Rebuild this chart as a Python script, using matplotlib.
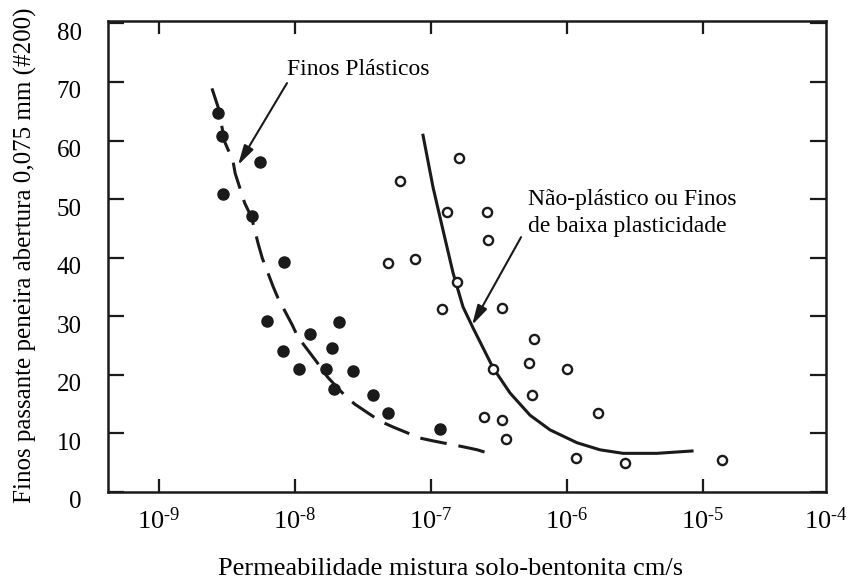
import numpy as np
import matplotlib
matplotlib.use("Agg")
import matplotlib.pyplot as plt
from matplotlib.transforms import ScaledTranslation

plt.rcParams['font.family'] = ['Liberation Serif', 'DejaVu Serif']
plt.rcParams['mathtext.fontset'] = 'custom'
plt.rcParams['mathtext.rm'] = 'Liberation Serif'
plt.rcParams['mathtext.it'] = 'Liberation Serif'

# finos plasticos (pontos cheios)
k_plast = [2.72e-9, 2.90e-9, 5.53e-9, 2.95e-9, 4.79e-9, 8.3e-9, 6.2e-9, 1.29e-8, 8.1e-9,
           2.11e-8, 1.87e-8, 1.07e-8, 1.70e-8, 2.69e-8, 1.95e-8, 3.72e-8, 4.83e-8, 1.17e-7]
f_plast = [64.7, 60.8, 56.3, 50.9, 47.1, 39.2, 29.2, 27.0, 24.1,
           29.0, 24.6, 21.0, 21.0, 20.6, 17.6, 16.6, 13.5, 10.7]
# nao plasticos (pontos abertos)
k_nplast = [1.61e-7, 5.92e-8, 1.32e-7, 2.58e-7, 2.63e-7, 4.83e-8, 7.62e-8, 1.55e-7, 1.20e-7,
            3.33e-7, 5.71e-7, 5.25e-7, 2.86e-7, 1.0e-6, 5.53e-7, 1.69e-6, 2.45e-7, 3.33e-7,
            3.55e-7, 1.17e-6, 2.69e-6, 1.38e-5]
f_nplast = [57.0, 53.1, 47.8, 47.8, 43.0, 39.1, 39.8, 35.8, 31.2,
            31.4, 26.1, 22.0, 21.0, 21.0, 16.6, 13.5, 12.8, 12.3,
            9.0, 5.8, 4.9, 5.5]
# curvas
k_curva_plast = [2.45e-9, 2.72e-9, 3.05e-9, 3.50e-9, 3.63e-9, 4.27e-9, 4.79e-9, 5.37e-9,
                 5.75e-9, 6.92e-9, 7.50e-9, 9.55e-9, 1.047e-8, 1.445e-8, 1.738e-8, 2.34e-8,
                 2.75e-8, 4.22e-8, 5.25e-8, 8.32e-8, 1.047e-7, 1.738e-7, 2.19e-7, 2.75e-7]
f_curva_plast = [68.9, 65.7, 59.7, 56.5, 54.4, 49.3, 46.9, 42.3,
                 39.9, 35.0, 33.1, 28.5, 26.5, 22.2, 19.6, 16.4,
                 15.0, 12.1, 11.1, 9.2, 8.7, 7.7, 7.2, 6.5]
k_curva_nplast = [8.73e-8, 1.035e-7, 1.225e-7, 1.452e-7, 1.718e-7, 2.037e-7, 2.858e-7, 3.81e-7,
                  5.35e-7, 7.50e-7, 1.186e-6, 1.75e-6, 2.58e-6, 4.57e-6, 8.30e-6]
f_curva_nplast = [60.9, 52.0, 44.7, 37.4, 31.6, 28.0, 21.2, 16.9,
                  13.1, 10.6, 8.4, 7.2, 6.6, 6.6, 7.0]

xticks = [1e-9, 1e-8, 1e-7, 1e-6, 1e-5]
xticklabels = [r'$10^{\text{-}9}$', r'$10^{\text{-}8}$', r'$10^{\text{-}7}$',
               r'$10^{\text{-}6}$', r'$10^{\text{-}5}$']
yticks = [0, 10, 20, 30, 40, 50, 60, 70, 80]

fig = plt.figure(figsize=(8.55, 5.84), dpi=100)
ax = fig.add_axes([108/855, 1-492/584, 718/855, 471/584])
cor = '#1a1a1a'

ax.plot(k_curva_plast, f_curva_plast, color=cor, lw=2.2, dashes=(8.8, 3.9))
ax.plot(k_curva_nplast, f_curva_nplast, color=cor, lw=2.2)
ax.plot(k_plast, f_plast, 'o', ms=8, color=cor)
ax.plot(k_nplast, f_nplast, 'o', ms=6.6, mfc='white', mec=cor, mew=1.7)

ax.set_xscale('log')
ax.set_xlim(10**-9.375, 10**-4.096)
ax.set_ylim(0, 80.4)
ax.set_xticks(xticks)
ax.set_xticklabels(xticklabels)
ax.xaxis.set_minor_locator(matplotlib.ticker.NullLocator())
ax.set_yticks(yticks)
ax.tick_params(direction='in', width=1.6, color=cor, top=True, right=True)
ax.tick_params(axis='x', length=9.5, pad=11, labelsize=19)
ax.tick_params(axis='y', length=11.5, pad=19, labelsize=18)
for s in ax.spines.values():
    s.set_linewidth(1.8)
    s.set_color(cor)
for lab in ax.get_yticklabels():
    lab.set_transform(lab.get_transform() + ScaledTranslation(0, -8/100, fig.dpi_scale_trans))
ax.text(1.0, -15/471, r'$10^{\text{-}4}$', transform=ax.transAxes, ha='center', va='top',
        fontsize=19)

fig.text(451/855, 1-575/584, 'Permeabilidade mistura solo-bentonita cm/s', ha='center',
         va='baseline', fontsize=19)
fig.text(25/855, 1-255/584, 'Finos passante peneira abertura 0,075 mm (#200)', rotation=90,
         ha='center', va='center', fontsize=18)

seta = dict(arrowstyle='-|>,head_length=0.6,head_width=0.16', color=cor, lw=1.5,
            mutation_scale=20, shrinkA=0, shrinkB=0)
ax.text(10**-8.059, 71.2, 'Finos Plásticos', fontsize=17, ha='left', va='baseline')
ax.annotate('', xy=(10**-8.419, 55.8), xytext=(10**-8.059, 69.8), arrowprops=seta)
ax.text(10**-6.287, 49.0, 'Não-plástico ou Finos', fontsize=17, ha='left', va='baseline')
ax.text(10**-6.287, 44.4, 'de baixa plasticidade', fontsize=17, ha='left', va='baseline')
ax.annotate('', xy=(10**-6.698, 28.5), xytext=(10**-6.338, 43.5), arrowprops=seta)

fig.savefig('out.png', dpi=100)
